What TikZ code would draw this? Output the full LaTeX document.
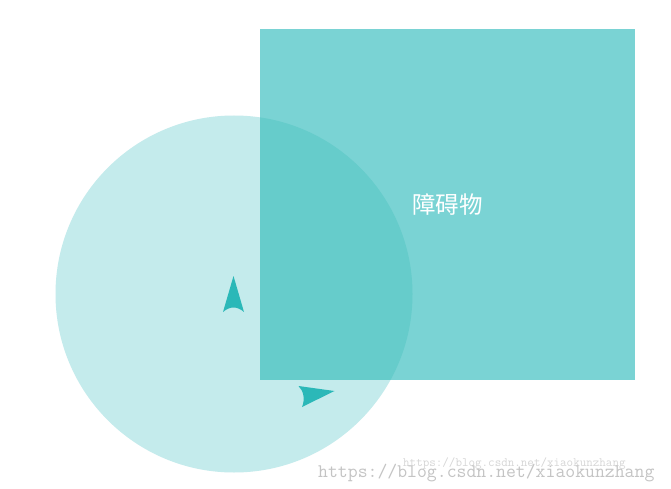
\documentclass[tikz,border=0pt]{standalone}
\usepackage{fontspec}
\newfontfamily\cjk{Noto Sans CJK SC}
\definecolor{circ}{HTML}{C4EBEC}
\definecolor{rectc}{HTML}{7AD3D4}
\definecolor{overl}{HTML}{66CCCB}
\definecolor{arr}{HTML}{2BB8B8}
\definecolor{wm}{HTML}{C4C4C4}
\definecolor{wmlight}{HTML}{D6D6D6}
\tikzset{arrowshape/.style={fill=arr,draw=none}}
\begin{document}
\begin{tikzpicture}[x=1pt,y=-1pt]
\useasboundingbox (0,0) rectangle (671,489);
\fill[white] (0,0) rectangle (671,489);
% circle
\fill[circ] (234,294) circle (178.5);
% rectangle (obstacle)
\fill[rectc] (260,29) rectangle (635,380);
\begin{scope}
\clip (234,294) circle (178.5);
\fill[overl] (260,29) rectangle (635,380);
\end{scope}
\node[text=white,font=\cjk\fontsize{23.5}{26}\selectfont] (obst) at (447.5,205) {障碍物};
% arrows
\fill[arrowshape] (233.5,276) -- (244,312) .. controls (237,306) and (230,306) .. (223,312) -- cycle;
\fill[arrowshape] (334.5,391) -- (302,407) .. controls (305,400) and (304,391) .. (298.5,386) -- cycle;
% watermarks
\node[anchor=base west,inner sep=0pt,text=wmlight,font=\ttfamily\fontsize{12.7}{14}\selectfont] (wm2) at (403,466) {https://blog.csdn.net/xiaokunzhang};
\node[anchor=base west,inner sep=0pt,text=wm,font=\ttfamily\fontsize{19.2}{21}\selectfont] (wm1) at (318,477) {https://blog.csdn.net/xiaokunzhang};
\end{tikzpicture}
\end{document}
